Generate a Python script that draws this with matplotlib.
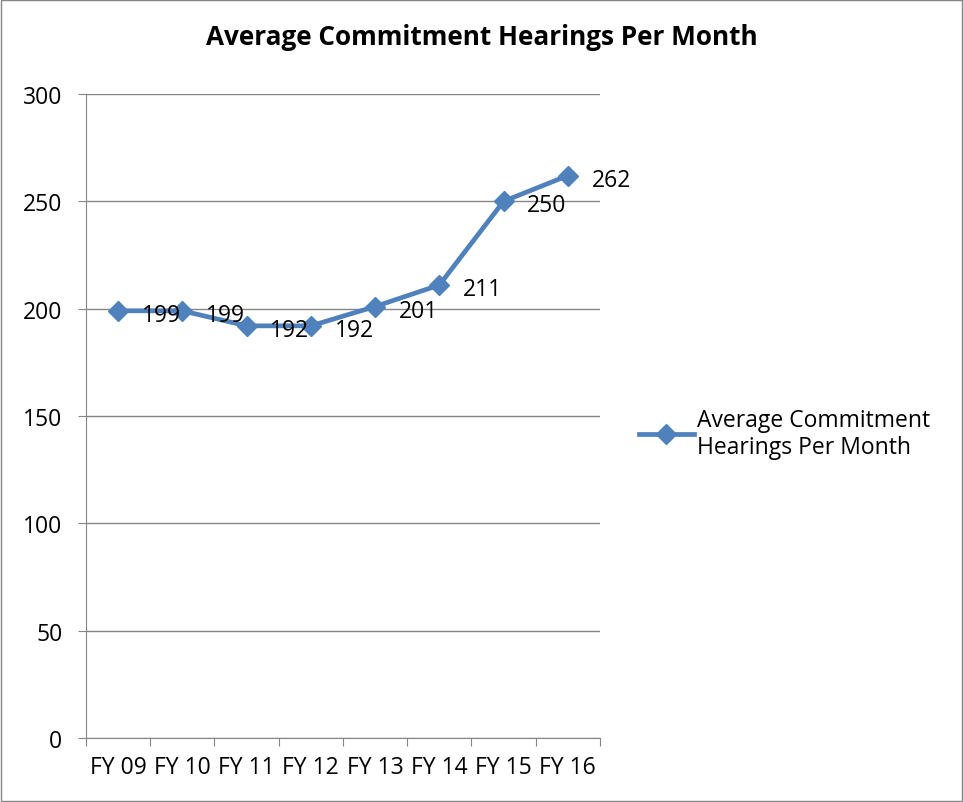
import matplotlib.pyplot as plt
from matplotlib.ticker import FixedLocator

years = ["FY 09", "FY 10", "FY 11", "FY 12", "FY 13", "FY 14", "FY 15", "FY 16"]
hearings = [199, 199, 192, 192, 201, 211, 250, 262]
y_ticks = [0, 50, 100, 150, 200, 250, 300]

plt.rcParams['font.family'] = ['Open Sans', 'DejaVu Sans']
fs = 16.5

fig = plt.figure(figsize=(9.63, 8.03), dpi=100)
ax = fig.add_axes([0.0893, 0.0797, 0.5337, 0.802])

xs = [i + 0.5 for i in range(len(years))]
blue = '#4F81BD'
ax.plot(xs, hearings, color=blue, linewidth=3.4, marker='D', markersize=10,
        label="Average Commitment\nHearings Per Month")
for x, v in zip(xs, hearings):
    ax.annotate(str(v), (x, v), xytext=(17, -3), textcoords='offset points',
                ha='left', va='center', fontsize=fs)

ax.set_xlim(0, len(years))
ax.set_ylim(0, 300)
ax.set_yticks(y_ticks)
ax.tick_params(axis='y', labelsize=fs, length=6, color='#868686', pad=11)
ax.xaxis.set_major_locator(FixedLocator(range(len(years) + 1)))
ax.xaxis.set_minor_locator(FixedLocator(xs))
ax.set_xticklabels([''] * (len(years) + 1))
ax.set_xticklabels(years, minor=True)
ax.tick_params(axis='x', which='major', length=6, color='#868686')
ax.tick_params(axis='x', which='minor', length=0, labelsize=fs, pad=12)
ax.grid(axis='y', color='#868686', linewidth=1)
ax.set_axisbelow(True)
for s in ['top', 'right']:
    ax.spines[s].set_visible(False)
ax.spines['left'].set_color('#868686')
ax.spines['bottom'].set_color('#868686')

fig.suptitle("Average Commitment Hearings Per Month", x=0.5, y=0.97,
             fontsize=18.8, fontweight='bold')

fig.legend(loc='center left', bbox_to_anchor=(0.642, 0.459), frameon=False,
           fontsize=fs, handlelength=2.4, handletextpad=0.15, labelspacing=0.2)

fig.patches.append(plt.Rectangle((0.001, 0.001), 0.998, 0.998, transform=fig.transFigure,
                                 fill=False, edgecolor='#868686', linewidth=1))

fig.savefig("out.png", dpi=100)
